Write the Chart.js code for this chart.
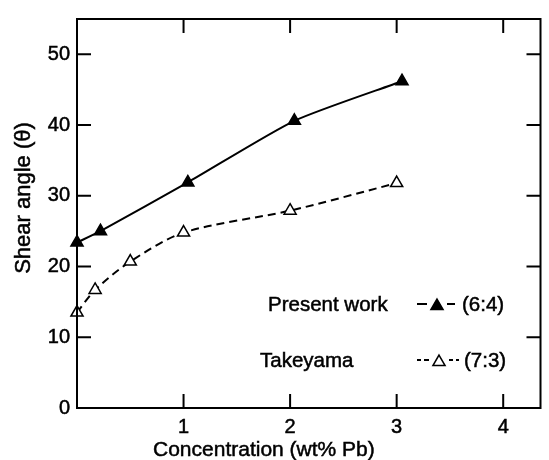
<!DOCTYPE html>
<html>
<head>
<meta charset="utf-8">
<script src="https://cdn.jsdelivr.net/npm/chart.js@4"></script>
<style>
  body { margin: 0; background: #fff; }
</style>
</head>
<body>
<canvas id="shearChart" width="549" height="460"></canvas>
<script>
// data
const presentX = [0, 0.22, 1.04, 2.04, 3.05];
const presentY = [23.4, 25.0, 31.9, 40.6, 46.2];
const takeyamaX = [0, 0.17, 0.5, 1.0, 2.0, 3.0];
const takeyamaY = [13.5, 16.7, 20.7, 24.8, 27.9, 31.8];
const xTicks = [1, 2, 3, 4];
const yTicks = [0, 10, 20, 30, 40, 50];

const FONT = '"Liberation Sans", Arial, sans-serif';

function points(xs, ys) {
    return xs.map((x, i) => ({ x: x, y: ys[i] }));
}

// scanned text looks a bit heavy, so fill and lightly stroke it
function heavyText(ctx, text, x, y) {
    ctx.fillText(text, x, y);
    ctx.strokeText(text, x, y);
}

// ticks pointing into the plot on all four sides
const innerTicks = {
    id: 'innerTicks',
    afterDraw(chart) {
        const ctx = chart.ctx;
        const a = chart.chartArea;
        const xs = chart.scales.x;
        const ys = chart.scales.y;
        const len = 14;
        ctx.save();
        ctx.strokeStyle = '#000';
        ctx.lineWidth = 2;
        ctx.beginPath();
        xTicks.forEach(v => {
            const px = xs.getPixelForValue(v);
            ctx.moveTo(px, a.bottom); ctx.lineTo(px, a.bottom - len);
            ctx.moveTo(px, a.top); ctx.lineTo(px, a.top + len);
        });
        yTicks.forEach(v => {
            if (v === 0) return;
            const py = ys.getPixelForValue(v);
            ctx.moveTo(a.left, py); ctx.lineTo(a.left + len, py);
            ctx.moveTo(a.right, py); ctx.lineTo(a.right - len, py);
        });
        ctx.stroke();
        // frame
        ctx.strokeRect(a.left, a.top, a.right - a.left, a.bottom - a.top);
        ctx.restore();
    }
};

// axis titles and the in-plot key
const labels = {
    id: 'labels',
    afterDraw(chart) {
        const ctx = chart.ctx;
        ctx.save();
        ctx.fillStyle = '#000';
        ctx.strokeStyle = '#000';
        ctx.lineWidth = 0.5;
        ctx.font = '21px ' + FONT;
        ctx.textBaseline = 'alphabetic';
        ctx.textAlign = 'left';
        heavyText(ctx, 'Concentration (wt% Pb)', 153, 456);

        ctx.save();
        ctx.font = '22px ' + FONT;
        ctx.translate(30, 198);
        ctx.rotate(-Math.PI / 2);
        ctx.textAlign = 'center';
        heavyText(ctx, 'Shear angle (\u03b8)', 0, 0);
        ctx.restore();

        ctx.font = '20.5px ' + FONT;
        ctx.textAlign = 'left';
        heavyText(ctx, 'Present work', 268, 311);
        heavyText(ctx, 'Takeyama', 260, 367);
        heavyText(ctx, '(6:4)', 462, 311);
        heavyText(ctx, '(7:3)', 464, 367);

        ctx.lineWidth = 2;
        ctx.beginPath();
        ctx.moveTo(417, 304); ctx.lineTo(427, 304);
        ctx.moveTo(447, 304); ctx.lineTo(455, 304);
        ctx.moveTo(417, 360); ctx.lineTo(421, 360);
        ctx.moveTo(424, 360); ctx.lineTo(429, 360);
        ctx.moveTo(449, 360); ctx.lineTo(453, 360);
        ctx.moveTo(456, 360); ctx.lineTo(459, 360);
        ctx.stroke();

        ctx.lineWidth = 1.5;
        Chart.helpers.drawPoint(ctx, { pointStyle: 'triangle', radius: 7, rotation: 0, borderWidth: 1.5 }, 437, 306);
        ctx.fill();
        ctx.fillStyle = '#fff';
        Chart.helpers.drawPoint(ctx, { pointStyle: 'triangle', radius: 7, rotation: 0, borderWidth: 1.5 }, 439, 362);
        ctx.restore();
    }
};

const tickFont = { family: FONT, size: 20 };

new Chart(document.getElementById('shearChart'), {
    type: 'scatter',
    data: {
        datasets: [
            {
                label: 'Present work (6:4)',
                data: points(presentX, presentY),
                showLine: true,
                borderColor: '#000',
                borderWidth: 2,
                tension: 0.2,
                pointStyle: 'triangle',
                pointRadius: 7,
                pointBackgroundColor: '#000',
                pointBorderColor: '#000',
                pointBorderWidth: 1.5,
                clip: false
            },
            {
                label: 'Takeyama (7:3)',
                data: points(takeyamaX, takeyamaY),
                showLine: true,
                borderColor: '#000',
                borderWidth: 2,
                borderDash: [8, 5],
                tension: 0.3,
                pointStyle: 'triangle',
                pointRadius: 7,
                pointBackgroundColor: '#fff',
                pointBorderColor: '#000',
                pointBorderWidth: 1.5,
                clip: false
            }
        ]
    },
    options: {
        responsive: false,
        animation: false,
        devicePixelRatio: 1,
        layout: { padding: { top: 10, right: 6, left: 0, bottom: 0 } },
        plugins: {
            legend: { display: false },
            tooltip: { enabled: false }
        },
        scales: {
            x: {
                type: 'linear',
                min: 0,
                max: 4.35,
                grid: { display: false, drawTicks: false },
                border: { display: false },
                ticks: {
                    stepSize: 1,
                    includeBounds: false,
                    padding: 7,
                    color: '#000',
                    textStrokeColor: '#000',
                    textStrokeWidth: 0.5,
                    font: tickFont,
                    callback: v => (xTicks.includes(v) ? String(v) : '')
                },
                afterFit(scale) { scale.height = 52; }
            },
            y: {
                min: 0,
                max: 55,
                grid: { display: false, drawTicks: false },
                border: { display: false },
                ticks: {
                    stepSize: 10,
                    includeBounds: false,
                    padding: 7,
                    color: '#000',
                    textStrokeColor: '#000',
                    textStrokeWidth: 0.5,
                    font: tickFont,
                    callback: v => (yTicks.includes(v) ? String(v) : '')
                },
                afterFit(scale) { scale.width = 77; }
            }
        }
    },
    plugins: [innerTicks, labels]
});
</script>
</body>
</html>
